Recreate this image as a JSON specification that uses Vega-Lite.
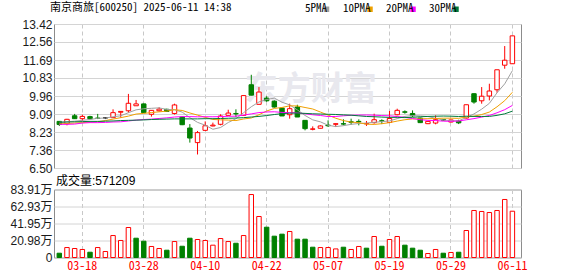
{
  "$schema": "https://vega.github.io/schema/vega-lite/v6.json",
  "autosize": {"type": "pad"},
  "padding": {"left": 9, "top": 1, "right": 0, "bottom": 0},
  "background": "#ffffff",
  "config": {
    "view": {"stroke": "#8c8c8c", "strokeWidth": 1},
    "axis": {"labelFont": "Liberation Sans, Noto Sans CJK SC", "labelFontSize": 12, "labelColor": "#1a1a1a", "title": null, "domain": false, "ticks": false, "gridColor": "#d4d4d4", "gridWidth": 1, "labelOverlap": false}
  },
  "datasets": {
    "k": [
      {"d":"03-13","o":8.74,"h":8.76,"l":8.52,"c":8.59,"v":5.3,"cd":"down","vd":"down","5PMA":8.70,"10PMA":8.62,"20PMA":8.60,"30PMA":8.70},
      {"d":"03-14","o":8.63,"h":8.86,"l":8.55,"c":8.84,"v":12.3,"cd":"up","vd":"up","5PMA":8.72,"10PMA":8.64,"20PMA":8.60,"30PMA":8.71},
      {"d":"03-17","o":9.01,"h":9.10,"l":8.86,"c":8.87,"v":11.1,"cd":"down","vd":"up","5PMA":8.75,"10PMA":8.66,"20PMA":8.61,"30PMA":8.72},
      {"d":"03-18","o":8.87,"h":9.06,"l":8.76,"c":8.98,"v":9.9,"cd":"up","vd":"up","5PMA":8.79,"10PMA":8.68,"20PMA":8.66,"30PMA":8.73},
      {"d":"03-19","o":8.97,"h":9.01,"l":8.86,"c":8.87,"v":6.5,"cd":"down","vd":"down","5PMA":8.830,"10PMA":8.70,"20PMA":8.68,"30PMA":8.74},
      {"d":"03-20","o":8.90,"h":9.10,"l":8.85,"c":8.88,"v":12.3,"cd":"down","vd":"up","5PMA":8.888,"10PMA":8.72,"20PMA":8.68,"30PMA":8.74},
      {"d":"03-21","o":8.91,"h":8.95,"l":8.85,"c":8.91,"v":7.4,"cd":"flat","vd":"up","5PMA":8.902,"10PMA":8.78,"20PMA":8.69,"30PMA":8.75},
      {"d":"03-24","o":8.92,"h":9.32,"l":8.91,"c":9.16,"v":27.1,"cd":"up","vd":"up","5PMA":8.960,"10PMA":8.85,"20PMA":8.71,"30PMA":8.76},
      {"d":"03-25","o":9.18,"h":9.22,"l":8.92,"c":9.22,"v":21.0,"cd":"up","vd":"up","5PMA":9.008,"10PMA":8.92,"20PMA":8.72,"30PMA":8.78},
      {"d":"03-26","o":9.25,"h":10.06,"l":9.16,"c":9.61,"v":37.0,"cd":"up","vd":"up","5PMA":9.156,"10PMA":8.993,"20PMA":8.76,"30PMA":8.79},
      {"d":"03-27","o":9.49,"h":9.77,"l":9.49,"c":9.58,"v":23.8,"cd":"up","vd":"down","5PMA":9.296,"10PMA":9.092,"20PMA":8.80,"30PMA":8.80},
      {"d":"03-28","o":9.58,"h":9.60,"l":9.15,"c":9.16,"v":20.1,"cd":"down","vd":"down","5PMA":9.346,"10PMA":9.124,"20PMA":8.83,"30PMA":8.81},
      {"d":"03-31","o":9.08,"h":9.28,"l":8.97,"c":9.27,"v":13.6,"cd":"up","vd":"up","5PMA":9.368,"10PMA":9.164,"20PMA":8.85,"30PMA":8.83},
      {"d":"04-01","o":9.25,"h":9.42,"l":9.21,"c":9.33,"v":11.1,"cd":"up","vd":"up","5PMA":9.390,"10PMA":9.199,"20PMA":8.88,"30PMA":8.84},
      {"d":"04-02","o":9.32,"h":9.35,"l":9.21,"c":9.22,"v":9.0,"cd":"down","vd":"down","5PMA":9.312,"10PMA":9.234,"20PMA":8.91,"30PMA":8.85},
      {"d":"04-03","o":9.12,"h":9.59,"l":9.07,"c":9.53,"v":19.7,"cd":"up","vd":"up","5PMA":9.302,"10PMA":9.299,"20PMA":8.95,"30PMA":8.86},
      {"d":"04-07","o":8.95,"h":8.97,"l":8.56,"c":8.58,"v":13.9,"cd":"down","vd":"down","5PMA":9.186,"10PMA":9.266,"20PMA":8.97,"30PMA":8.86},
      {"d":"04-08","o":8.42,"h":8.61,"l":7.72,"c":7.94,"v":23.8,"cd":"down","vd":"down","5PMA":8.920,"10PMA":9.144,"20PMA":8.97,"30PMA":8.86},
      {"d":"04-09","o":7.72,"h":8.28,"l":7.15,"c":8.20,"v":22.2,"cd":"up","vd":"up","5PMA":8.694,"10PMA":9.042,"20PMA":8.96,"30PMA":8.86},
      {"d":"04-10","o":8.31,"h":8.74,"l":8.28,"c":8.53,"v":21.0,"cd":"up","vd":"up","5PMA":8.556,"10PMA":8.934,"20PMA":8.964,"30PMA":8.87},
      {"d":"04-11","o":8.52,"h":8.68,"l":8.50,"c":8.56,"v":15.2,"cd":"up","vd":"up","5PMA":8.362,"10PMA":8.832,"20PMA":8.962,"30PMA":8.87},
      {"d":"04-14","o":8.60,"h":9.08,"l":8.55,"c":9.00,"v":23.4,"cd":"up","vd":"up","5PMA":8.446,"10PMA":8.816,"20PMA":8.970,"30PMA":8.88},
      {"d":"04-15","o":9.03,"h":9.30,"l":9.02,"c":9.14,"v":19.7,"cd":"up","vd":"up","5PMA":8.686,"10PMA":8.803,"20PMA":8.984,"30PMA":8.89},
      {"d":"04-16","o":9.12,"h":9.32,"l":8.95,"c":9.10,"v":17.6,"cd":"down","vd":"down","5PMA":8.866,"10PMA":8.780,"20PMA":8.990,"30PMA":8.90},
      {"d":"04-17","o":9.03,"h":9.99,"l":9.01,"c":9.98,"v":27.1,"cd":"up","vd":"up","5PMA":9.156,"10PMA":8.856,"20PMA":9.045,"30PMA":8.92},
      {"d":"04-18","o":10.50,"h":10.98,"l":9.99,"c":10.00,"v":77.7,"cd":"down","vd":"up","5PMA":9.444,"10PMA":8.903,"20PMA":9.101,"30PMA":8.95},
      {"d":"04-21","o":9.56,"h":10.39,"l":9.56,"c":10.15,"v":50.6,"cd":"up","vd":"up","5PMA":9.674,"10PMA":9.060,"20PMA":9.163,"30PMA":8.98},
      {"d":"04-22","o":9.86,"h":9.95,"l":9.68,"c":9.73,"v":37.4,"cd":"down","vd":"down","5PMA":9.792,"10PMA":9.239,"20PMA":9.192,"30PMA":9.02},
      {"d":"04-23","o":9.71,"h":9.75,"l":9.40,"c":9.43,"v":26.3,"cd":"down","vd":"down","5PMA":9.858,"10PMA":9.362,"20PMA":9.202,"30PMA":9.07},
      {"d":"04-24","o":9.38,"h":9.40,"l":9.00,"c":9.00,"v":28.8,"cd":"down","vd":"down","5PMA":9.662,"10PMA":9.409,"20PMA":9.172,"30PMA":9.112},
      {"d":"04-25","o":9.06,"h":9.59,"l":8.87,"c":9.35,"v":32.1,"cd":"up","vd":"up","5PMA":9.532,"10PMA":9.488,"20PMA":9.160,"30PMA":9.137},
      {"d":"04-28","o":9.43,"h":9.54,"l":8.95,"c":8.95,"v":22.6,"cd":"down","vd":"down","5PMA":9.292,"10PMA":9.483,"20PMA":9.150,"30PMA":9.141},
      {"d":"04-29","o":8.79,"h":8.79,"l":8.31,"c":8.39,"v":22.6,"cd":"down","vd":"down","5PMA":9.024,"10PMA":9.408,"20PMA":9.106,"30PMA":9.125},
      {"d":"04-30","o":8.36,"h":8.50,"l":8.31,"c":8.38,"v":12.7,"cd":"up","vd":"down","5PMA":8.814,"10PMA":9.336,"20PMA":9.058,"30PMA":9.105},
      {"d":"05-06","o":8.41,"h":8.55,"l":8.40,"c":8.52,"v":12.3,"cd":"up","vd":"up","5PMA":8.718,"10PMA":9.190,"20PMA":9.023,"30PMA":9.093},
      {"d":"05-07","o":8.56,"h":8.79,"l":8.47,"c":8.53,"v":12.3,"cd":"down","vd":"up","5PMA":8.554,"10PMA":9.043,"20PMA":8.973,"30PMA":9.082},
      {"d":"05-08","o":8.60,"h":8.64,"l":8.47,"c":8.63,"v":10.6,"cd":"up","vd":"up","5PMA":8.490,"10PMA":8.891,"20PMA":8.976,"30PMA":9.072},
      {"d":"05-09","o":8.63,"h":8.84,"l":8.55,"c":8.61,"v":12.7,"cd":"down","vd":"down","5PMA":8.534,"10PMA":8.779,"20PMA":9.009,"30PMA":9.054},
      {"d":"05-12","o":8.72,"h":8.87,"l":8.58,"c":8.70,"v":9.9,"cd":"down","vd":"up","5PMA":8.598,"10PMA":8.706,"20PMA":9.034,"30PMA":9.037},
      {"d":"05-13","o":8.74,"h":8.84,"l":8.55,"c":8.72,"v":13.6,"cd":"down","vd":"up","5PMA":8.638,"10PMA":8.678,"20PMA":9.044,"30PMA":9.007},
      {"d":"05-14","o":8.62,"h":8.76,"l":8.52,"c":8.64,"v":11.5,"cd":"up","vd":"down","5PMA":8.660,"10PMA":8.607,"20PMA":9.048,"30PMA":8.976},
      {"d":"05-15","o":8.68,"h":9.11,"l":8.63,"c":8.82,"v":25.9,"cd":"up","vd":"up","5PMA":8.698,"10PMA":8.594,"20PMA":9.039,"30PMA":8.964},
      {"d":"05-16","o":8.77,"h":8.84,"l":8.61,"c":8.75,"v":13.9,"cd":"down","vd":"down","5PMA":8.726,"10PMA":8.630,"20PMA":9.019,"30PMA":8.947},
      {"d":"05-19","o":8.69,"h":9.24,"l":8.66,"c":8.88,"v":22.2,"cd":"up","vd":"up","5PMA":8.762,"10PMA":8.680,"20PMA":9.008,"30PMA":8.932},
      {"d":"05-20","o":9.06,"h":9.35,"l":9.03,"c":9.27,"v":25.9,"cd":"up","vd":"up","5PMA":8.872,"10PMA":8.755,"20PMA":8.973,"30PMA":8.934},
      {"d":"05-21","o":9.20,"h":9.27,"l":9.11,"c":9.18,"v":15.2,"cd":"down","vd":"down","5PMA":8.980,"10PMA":8.820,"20PMA":8.932,"30PMA":8.922},
      {"d":"05-22","o":9.12,"h":9.27,"l":8.95,"c":9.01,"v":11.5,"cd":"down","vd":"down","5PMA":9.018,"10PMA":8.858,"20PMA":8.875,"30PMA":8.936},
      {"d":"05-23","o":8.90,"h":8.92,"l":8.66,"c":8.68,"v":9.0,"cd":"down","vd":"down","5PMA":9.004,"10PMA":8.865,"20PMA":8.822,"30PMA":8.961},
      {"d":"05-26","o":8.63,"h":8.76,"l":8.61,"c":8.74,"v":4.9,"cd":"up","vd":"up","5PMA":8.976,"10PMA":8.869,"20PMA":8.788,"30PMA":8.979},
      {"d":"05-27","o":8.66,"h":9.03,"l":8.60,"c":8.82,"v":9.9,"cd":"up","vd":"up","5PMA":8.886,"10PMA":8.879,"20PMA":8.779,"30PMA":8.989},
      {"d":"05-28","o":8.83,"h":8.86,"l":8.76,"c":8.80,"v":5.3,"cd":"down","vd":"down","5PMA":8.810,"10PMA":8.895,"20PMA":8.751,"30PMA":8.997},
      {"d":"05-29","o":8.71,"h":8.82,"l":8.69,"c":8.81,"v":6.2,"cd":"up","vd":"up","5PMA":8.770,"10PMA":8.894,"20PMA":8.744,"30PMA":8.990},
      {"d":"05-30","o":8.76,"h":8.82,"l":8.61,"c":8.67,"v":6.5,"cd":"down","vd":"down","5PMA":8.768,"10PMA":8.886,"20PMA":8.758,"30PMA":8.975},
      {"d":"06-03","o":8.90,"h":9.54,"l":8.88,"c":9.54,"v":33.3,"cd":"up","vd":"up","5PMA":8.928,"10PMA":8.952,"20PMA":8.816,"30PMA":8.989},
      {"d":"06-04","o":10.07,"h":10.09,"l":9.59,"c":9.67,"v":58.0,"cd":"down","vd":"up","5PMA":9.098,"10PMA":8.992,"20PMA":8.874,"30PMA":8.979},
      {"d":"06-05","o":9.73,"h":10.39,"l":9.59,"c":9.95,"v":56.8,"cd":"up","vd":"up","5PMA":9.328,"10PMA":9.069,"20PMA":8.945,"30PMA":8.977},
      {"d":"06-06","o":9.96,"h":10.55,"l":9.75,"c":10.20,"v":55.5,"cd":"up","vd":"up","5PMA":9.606,"10PMA":9.188,"20PMA":9.023,"30PMA":8.979},
      {"d":"06-09","o":10.26,"h":11.22,"l":10.12,"c":11.22,"v":58.0,"cd":"up","vd":"up","5PMA":10.116,"10PMA":9.442,"20PMA":9.154,"30PMA":9.029},
      {"d":"06-10","o":11.44,"h":12.36,"l":11.27,"c":11.68,"v":71.6,"cd":"up","vd":"up","5PMA":10.544,"10PMA":9.736,"20PMA":9.303,"30PMA":9.104},
      {"d":"06-11","o":11.51,"h":12.85,"l":11.50,"c":12.85,"v":57.1209,"cd":"up","vd":"up","5PMA":11.180,"10PMA":10.139,"20PMA":9.509,"30PMA":9.232}
    ]
  },
  "spacing": -1.5,
  "vconcat": [
    {
      "width": 467,
      "height": 144,
      "title": {"text": "南京商旅[600250] 2025-06-11 14:38", "anchor": "start", "frame": "group", "dx": -4, "offset": 5, "fontSize": 11, "font": "Noto Sans Mono CJK SC, Noto Sans CJK SC", "fontWeight": "normal", "color": "#000000"},
      "data": {"name": "k"},
      "encoding": {
        "x": {"field": "d", "type": "ordinal", "sort": null,
          "scale": {"type": "band", "paddingInner": 0.42, "paddingOuter": 0.615, "align": 0.325,
            "domain": ["03-13","03-14","03-17","03-18","03-19","03-20","03-21","03-24","03-25","03-26","03-27","03-28","03-31","04-01","04-02","04-03","04-07","04-08","04-09","04-10","04-11","04-14","04-15","04-16","04-17","04-18","04-21","04-22","04-23","04-24","04-25","04-28","04-29","04-30","05-06","05-07","05-08","05-09","05-12","05-13","05-14","05-15","05-16","05-19","05-20","05-21","05-22","05-23","05-26","05-27","05-28","05-29","05-30","06-03","06-04","06-05","06-06","06-09","06-10","06-11"]},
          "axis": {"values": ["03-18","03-28","04-10","04-22","05-07","05-19","05-29","06-11"], "labels": false, "grid": true, "gridDash": [4, 3], "gridColor": "#c8c8c8", "bandPosition": 0.5}
        }
      },
      "layer": [
        {
          "data": {"values": [{"t": "东方财富", "d": "04-30", "p": 10.25}]},
          "mark": {"type": "text", "fontSize": 33, "fontWeight": "bold", "font": "Noto Sans CJK SC", "color": "#e8e8ee", "align": "center", "baseline": "middle", "dx": -2},
          "encoding": {
            "y": {"field": "p", "type": "quantitative",
              "scale": {"domain": [6.5, 13.42], "nice": false, "zero": false},
              "axis": {"values": [6.5, 7.36, 8.23, 9.09, 9.96, 10.83, 11.69, 12.56, 13.42], "labelExpr": "format(datum.value, '.2f')", "grid": true, "labelPadding": 2, "labelOverlap": false}
            },
            "text": {"field": "t"}
          }
        },
        {
          "mark": {"type": "rule", "strokeWidth": 1},
          "encoding": {
            "y": {"field": "l", "type": "quantitative",
              "axis": {"values": [6.5, 7.36, 8.23, 9.09, 9.96, 10.83, 11.69, 12.56, 13.42], "labelExpr": "format(datum.value, '.2f')", "grid": true, "labelPadding": 2, "labelOverlap": false}
            },
            "y2": {"field": "h"},
            "stroke": {"field": "cd", "type": "nominal", "scale": {"domain": ["up","down","flat"], "range": ["#ff0000","#008000","#000000"]}, "legend": null}
          }
        },
        {
          "mark": {"type": "bar", "strokeWidth": 1},
          "encoding": {
            "y": {"field": "o", "type": "quantitative",
              "axis": {"values": [6.5, 7.36, 8.23, 9.09, 9.96, 10.83, 11.69, 12.56, 13.42], "labelExpr": "format(datum.value, '.2f')", "grid": true, "labelPadding": 2, "labelOverlap": false}
            },
            "y2": {"field": "c"},
            "stroke": {"field": "cd", "type": "nominal", "legend": null},
            "fill": {"field": "cd", "type": "nominal", "scale": {"domain": ["up","down","flat"], "range": ["#ffffff","#008000","#000000"]}, "legend": null},
            "fillOpacity": {"value": 1}
          }
        },
        {
          "transform": [{"fold": ["5PMA","10PMA","20PMA","30PMA"], "as": ["ma","val"]}],
          "mark": {"type": "line", "strokeWidth": 1},
          "encoding": {
            "y": {"field": "val", "type": "quantitative",
              "axis": {"values": [6.5, 7.36, 8.23, 9.09, 9.96, 10.83, 11.69, 12.56, 13.42], "labelExpr": "format(datum.value, '.2f')", "grid": true, "labelPadding": 2, "labelOverlap": false}
            },
            "color": {"field": "ma", "type": "nominal",
              "scale": {"domain": ["5PMA","10PMA","20PMA","30PMA"], "range": ["#a0a0a0","#f0a000","#ff00ff","#007a3d"]},
              "legend": {"title": null, "orient": "none", "legendX": 246, "legendY": -20.5, "direction": "horizontal", "symbolType": "square", "symbolSize": 30, "symbolStrokeWidth": 0, "labelFont": "Noto Sans Mono CJK SC, Noto Sans CJK SC", "labelFontSize": 11, "labelColor": "#000000", "columnPadding": 8, "labelOffset": -6,
                "encode": {"symbols": {"update": {
                  "x": {"signal": "datum.label == '5PMA' ? 26.5 : 32"},
                  "opacity": {"value": 1},
                  "size": {"value": 30},
                  "shape": {"value": "square"},
                  "strokeWidth": {"value": 0},
                  "fill": {"signal": "datum.label == '5PMA' ? '#a0a0a0' : datum.label == '10PMA' ? '#f0a000' : datum.label == '20PMA' ? '#ff00ff' : '#007a3d'"}
                }}}}
            }
          }
        }
      ]
    },
    {
      "width": 467,
      "height": 68,
      "title": {"text": "成交量:571209", "anchor": "start", "frame": "group", "dx": 2, "offset": -4, "fontSize": 12, "font": "Liberation Sans, Noto Sans CJK SC", "fontWeight": "normal", "color": "#000000"},
      "data": {"name": "k"},
      "mark": {"type": "bar", "strokeWidth": 1},
      "encoding": {
        "x": {"field": "d", "type": "ordinal", "sort": null,
          "scale": {"type": "band", "paddingInner": 0.42, "paddingOuter": 0.615, "align": 0.325,
            "domain": ["03-13","03-14","03-17","03-18","03-19","03-20","03-21","03-24","03-25","03-26","03-27","03-28","03-31","04-01","04-02","04-03","04-07","04-08","04-09","04-10","04-11","04-14","04-15","04-16","04-17","04-18","04-21","04-22","04-23","04-24","04-25","04-28","04-29","04-30","05-06","05-07","05-08","05-09","05-12","05-13","05-14","05-15","05-16","05-19","05-20","05-21","05-22","05-23","05-26","05-27","05-28","05-29","05-30","06-03","06-04","06-05","06-06","06-09","06-10","06-11"]},
          "axis": {"values": ["03-18","03-28","04-10","04-22","05-07","05-19","05-29","06-11"], "labelAngle": 0, "labelColor": "#ff0000", "labelFont": "Noto Sans Mono CJK SC, Noto Sans CJK SC", "labelFontSize": 12, "labelPadding": 3, "grid": true, "gridDash": [4, 3], "gridColor": "#c8c8c8", "bandPosition": 0.5}
        },
        "y": {"field": "v", "type": "quantitative",
          "scale": {"domain": [0, 83.91], "nice": false},
          "axis": {"values": [0, 20.98, 41.95, 62.93, 83.91], "labelExpr": "datum.value == 0 ? '0' : format(datum.value, '.2f') + '万'", "grid": true, "labelPadding": 2, "labelOverlap": false}
        },
        "stroke": {"field": "vd", "type": "nominal", "scale": {"domain": ["up","down"], "range": ["#ff0000","#008000"]}, "legend": null},
        "fill": {"field": "vd", "type": "nominal", "scale": {"domain": ["up","down"], "range": ["#ffffff","#008000"]}, "legend": null}
      }
    }
  ]
}
